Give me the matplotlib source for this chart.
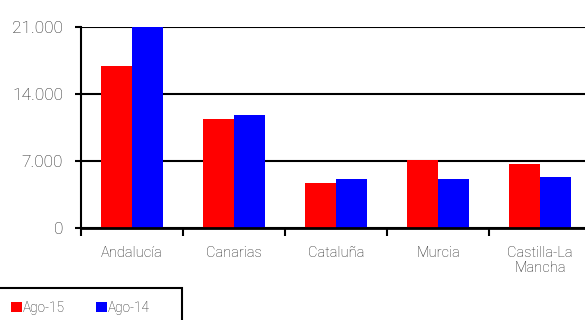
import matplotlib
matplotlib.use("Agg")
import matplotlib.pyplot as plt
from matplotlib.patches import Rectangle
import numpy as np

# values
regions = ["Andalucía", "Canarias", "Cataluña", "Murcia", "Castilla-La\nMancha"]
ago15 = [16900, 11400, 4700, 7150, 6700]
ago14 = [21000, 11800, 5100, 5100, 5350]
series_names = ["Ago-15", "Ago-14"]
yticks = [0, 7000, 14000, 21000]
ytick_labels = ["0", "7.000", "14.000", "21.000"]

TXT = "#222222"
plt.rcParams["font.family"] = ["Roboto", "DejaVu Sans"]
plt.rcParams["font.weight"] = "light"

fig = plt.figure(figsize=(5.85, 3.2), dpi=100)
ax = fig.add_axes([81 / 585, 92 / 320, 510 / 585, 201 / 320])

x = np.arange(len(regions))
w = 0.3
ax.bar(x - w / 2, ago15, w, color="#ff0000", label=series_names[0], zorder=2)
ax.bar(x + w / 2, ago14, w, color="#0000ff", label=series_names[1], zorder=2)

ax.set_xlim(-0.5, len(regions) - 0.5)
ax.set_ylim(0, 21000)
ax.set_yticks(yticks)
ax.set_yticklabels(ytick_labels, fontsize=12.5, color=TXT)
ax.yaxis.grid(True, color="black", lw=1.5, zorder=1)
ax.tick_params(axis="y", length=4, width=1.5, pad=9, color="black")

ax.set_xticks(x)
ax.set_xticklabels(regions, fontsize=10.5, color=TXT, linespacing=1.1)
ax.set_xticks(np.arange(len(regions) + 1) - 0.5, minor=True)
ax.tick_params(axis="x", which="major", length=0, pad=13)
ax.tick_params(axis="x", which="minor", length=6, width=1.5, color="black")

for s in ["top", "right"]:
    ax.spines[s].set_visible(False)
ax.spines["left"].set_linewidth(1.5)
ax.spines["bottom"].set_linewidth(2)
ax.spines["bottom"].set_zorder(3)

# legend box along the bottom-left edge
fig.patches.append(Rectangle((-2 / 585, -10 / 320), 184 / 585, 42 / 320,
                             transform=fig.transFigure, fill=False,
                             edgecolor="black", lw=1.5))
fig.legend(loc="center left", bbox_to_anchor=(0, 1 - 308 / 320), ncol=2,
           frameon=False, fontsize=9.8, handlelength=0.8, handleheight=0.8,
           handletextpad=0.05, columnspacing=2.3, borderpad=0.3, labelcolor=TXT)

fig.savefig("out.png", dpi=100)
